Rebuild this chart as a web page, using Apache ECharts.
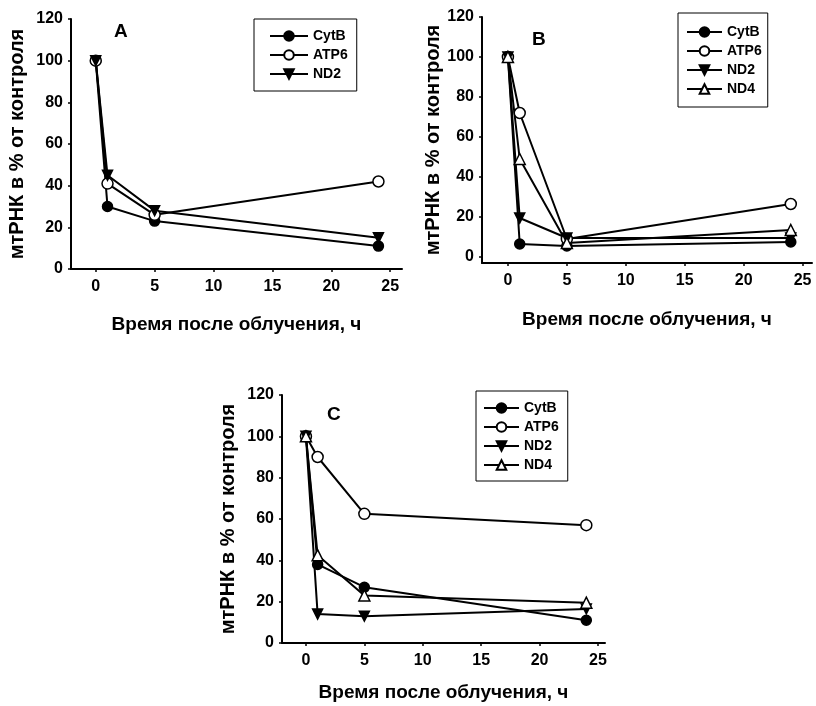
<!DOCTYPE html>
<html>
<head>
<meta charset="UTF-8">
<script src="https://cdn.jsdelivr.net/npm/echarts@6/dist/echarts.min.js"></script>
<style>
  html, body { margin: 0; padding: 0; background: #fff; }
  #chart { width: 816px; height: 706px; }
</style>
</head>
<body>
<div id="chart"></div>
<script>
// время после облучения, ч
var hours = [0, 1, 5, 24];
var xTicks = [0, 5, 10, 15, 20, 25];
var yTicks = [0, 20, 40, 60, 80, 100, 120];

// панель A
var aCytB = [100, 30, 23, 11];
var aATP6 = [100, 41, 26, 42];
var aND2  = [100, 45, 28, 15];
// панель B
var bCytB = [100, 6.5, 5.5, 7.5];
var bATP6 = [100, 72, 9, 26.5];
var bND2  = [100, 19.5, 9.5, 9.5];
var bND4  = [100, 49, 7, 13.5];
// панель C
var cCytB = [100, 38, 27, 11];
var cATP6 = [100, 90, 62.5, 57];
var cND2  = [100, 14, 13, 16.5];
var cND4  = [100, 42.5, 23, 19.5];

var FONT = '"Liberation Sans", Arial, sans-serif';
var downTri = 'path://M0,0 L10,0 L5,9 Z';

var styles = {
  CytB: { symbol: 'circle', size: 10, fill: '#000' },
  ATP6: { symbol: 'circle', size: 11, fill: '#fff' },
  ND2:  { symbol: downTri,  size: 10, fill: '#000' },
  ND4:  { symbol: 'triangle', size: 11, fill: '#fff' }
};

function pairs(vals) {
  var out = [];
  for (var i = 0; i < hours.length; i++) out.push([hours[i], vals[i]]);
  return out;
}

function mkSeries(name, vals, idx) {
  var s = styles[name];
  return {
    name: name, type: 'line',
    xAxisIndex: idx, yAxisIndex: idx,
    data: pairs(vals),
    symbol: s.symbol, symbolSize: s.size,
    showAllSymbol: true,
    lineStyle: { color: '#000', width: 2 },
    itemStyle: { color: s.fill, borderColor: '#000', borderWidth: 1.5 },
    color: '#000',
    animation: false
  };
}

function mkX(idx, min, max, gap) {
  return {
    type: 'value', gridIndex: idx, min: min, max: max,
    name: 'Время после облучения, ч', nameLocation: 'middle', nameGap: gap,
    nameTextStyle: { fontFamily: FONT, fontWeight: 'bold', fontSize: 19, color: '#000' },
    axisLine: { onZero: false, lineStyle: { color: '#000', width: 2 } },
    axisTick: { show: true, customValues: xTicks, length: 3, lineStyle: { color: '#000', width: 1.5 } },
    axisLabel: { customValues: xTicks, margin: 10, fontFamily: FONT, fontWeight: 'bold', fontSize: 16, color: '#000' },
    splitLine: { show: false }
  };
}

function mkY(idx, min, gap) {
  return {
    type: 'value', gridIndex: idx, min: min, max: 120,
    name: 'мтРНК в % от контроля', nameLocation: 'middle', nameGap: gap,
    nameTextStyle: { fontFamily: FONT, fontWeight: 'bold', fontSize: 20, color: '#000' },
    axisLine: { onZero: false, lineStyle: { color: '#000', width: 2 } },
    axisTick: { show: true, customValues: yTicks, length: 3, lineStyle: { color: '#000', width: 1.5 } },
    axisLabel: { customValues: yTicks, margin: 8, fontFamily: FONT, fontWeight: 'bold', fontSize: 16, color: '#000' },
    splitLine: { show: false }
  };
}

function mkLegend(names, left, top, iconW, pad) {
  return {
    data: names, orient: 'vertical', left: left, top: top,
    itemWidth: iconW, itemHeight: 12, itemGap: 5,
    padding: pad,
    borderColor: '#000', borderWidth: 1, borderRadius: 0,
    textStyle: { fontFamily: FONT, fontWeight: 'bold', fontSize: 14, color: '#000' },
    selectedMode: false
  };
}

var chart = echarts.init(document.getElementById('chart'));
chart.setOption({
  backgroundColor: '#fff',
  animation: false,
  grid: [
    { left: 71, top: 19, width: 331, height: 250 },
    { left: 482, top: 17, width: 330, height: 246 },
    { left: 282, top: 395, width: 323, height: 248 }
  ],
  xAxis: [mkX(0, -2.1, 26, 46), mkX(1, -2.2, 25.8, 47), mkX(2, -2.05, 25.6, 40)],
  yAxis: [mkY(0, 0, 44), mkY(1, -3, 37), mkY(2, 0, 44)],
  legend: [
    mkLegend(['CytB', 'ATP6', 'ND2'], 254, 19, 38, [10, 9, 10, 15]),
    mkLegend(['CytB', 'ATP6', 'ND2', 'ND4'], 678, 13, 35, [12, 6, 11, 8]),
    mkLegend(['CytB', 'ATP6', 'ND2', 'ND4'], 476, 391, 35, [10, 9, 9, 7])
  ],
  graphic: [
    { type: 'text', left: 114, top: 22, style: { text: 'A', font: 'bold 19px ' + FONT, fill: '#000' } },
    { type: 'text', left: 532, top: 30, style: { text: 'B', font: 'bold 19px ' + FONT, fill: '#000' } },
    { type: 'text', left: 327, top: 405, style: { text: 'C', font: 'bold 19px ' + FONT, fill: '#000' } }
  ],
  series: [
    mkSeries('CytB', aCytB, 0), mkSeries('ATP6', aATP6, 0), mkSeries('ND2', aND2, 0),
    mkSeries('CytB', bCytB, 1), mkSeries('ATP6', bATP6, 1), mkSeries('ND2', bND2, 1), mkSeries('ND4', bND4, 1),
    mkSeries('CytB', cCytB, 2), mkSeries('ATP6', cATP6, 2), mkSeries('ND2', cND2, 2), mkSeries('ND4', cND4, 2)
  ]
});
</script>
</body>
</html>
